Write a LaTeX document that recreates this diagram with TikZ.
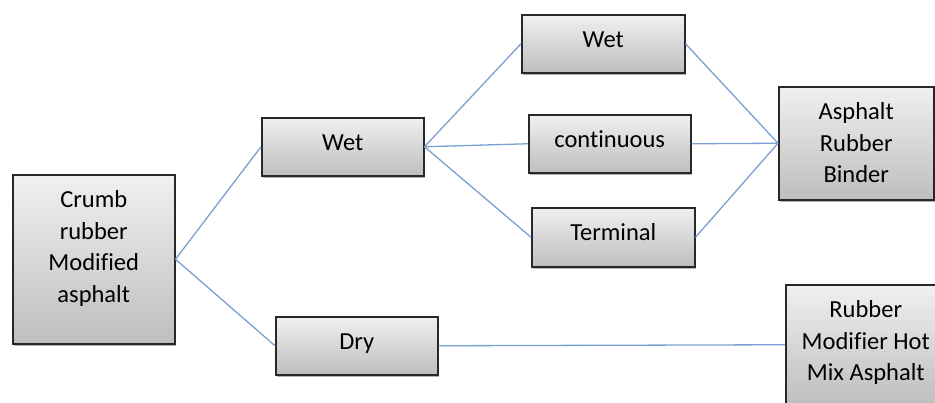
\documentclass[tikz,border=0pt]{standalone}
\usepackage{fontspec}
\setmainfont{Carlito}[Ligatures=NoCommon]
\usetikzlibrary{shadows}
\definecolor{linkblue}{RGB}{122,160,210}
\definecolor{boxtop}{RGB}{240,240,240}
\definecolor{boxbot}{RGB}{190,190,190}
\definecolor{boxedge}{RGB}{40,40,40}
\tikzset{
  box/.style={draw=boxedge, line width=1.5pt, top color=boxtop, bottom color=boxbot,
    anchor=north west, inner sep=0pt, align=flush center, text height=33pt,
    font=\fontsize{24.5}{31.5}\selectfont,
    drop shadow={shadow xshift=1.5pt, shadow yshift=-2pt, opacity=0.3, fill=black}},
  link/.style={draw=linkblue, line width=1.3pt}
}
\begin{document}
\begin{tikzpicture}[x=1pt, y=-1pt]
\clip (0,0) rectangle (935,402);
\node[box, text width=162pt, text depth=136pt] (crumb) at (12,174) {Crumb\\rubber\\Modified\\asphalt};
\node[box, text width=162pt, text depth=25pt] (wetA) at (261,117) {Wet};
\node[box, text width=162pt, text depth=25pt] (dry) at (275,316) {Dry};
\node[box, text width=163pt, text depth=25pt] (wetB) at (521,14) {Wet};
\node[box, text width=162pt, text depth=25pt] (cont) at (528,114) {continuous};
\node[box, text width=163pt, text depth=26pt] (term) at (531,207) {Terminal};
\node[box, text width=155pt, text depth=80pt] (arb) at (778,86) {Asphalt\\Rubber\\Binder};
\node[box, text width=160pt, text depth=87pt] (rmh) at (785,284) {Rubber\\Modifier Hot\\Mix Asphalt};
\draw[link] (crumb.east) -- (wetA.west);
\draw[link] (crumb.east) -- (dry.west);
\draw[link] (wetA.east) -- (wetB.west);
\draw[link] (wetA.east) -- (cont.west);
\draw[link] (wetA.east) -- (term.west);
\draw[link] (wetB.east) -- (arb.west);
\draw[link] (cont.east) -- (arb.west);
\draw[link] (term.east) -- (arb.west);
\draw[link] (dry.east) -- (rmh.west);
\end{tikzpicture}
\end{document}
